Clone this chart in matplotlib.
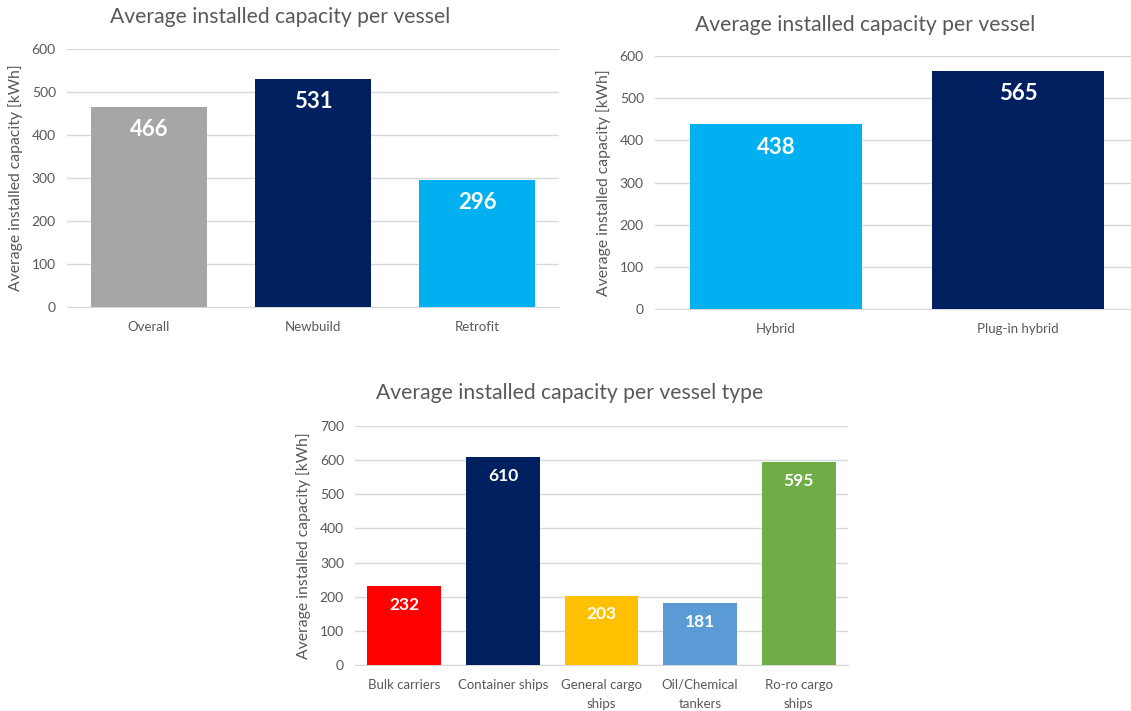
import matplotlib.pyplot as plt

# Chart data
status_labels = ["Overall", "Newbuild", "Retrofit"]
status_values = [466, 531, 296]
status_colors = ["#a6a6a6", "#002060", "#00b0f0"]

hybrid_labels = ["Hybrid", "Plug-in hybrid"]
hybrid_values = [438, 565]
hybrid_colors = ["#00b0f0", "#002060"]

type_labels = ["Bulk carriers", "Container ships", "General cargo\nships",
               "Oil/Chemical\ntankers", "Ro-ro cargo\nships"]
type_values = [232, 610, 203, 181, 595]
type_colors = ["#ff0000", "#002060", "#ffc000", "#5b9bd5", "#70ad47"]

plt.rcParams['font.family'] = ['Lato', 'DejaVu Sans']
text_gray = "#595959"
grid_gray = "#d9d9d9"


def bar_panel(fig, rect, labels, values, colors, ymax, width, label_size, label_offset):
    ax = fig.add_axes(rect)
    x = range(len(labels))
    bars = ax.bar(x, values, color=colors, width=width, zorder=3)
    ax.set_xlim(-0.5, len(labels) - 0.5)
    ax.set_ylim(0, ymax)
    ax.set_yticks(range(0, ymax + 1, 100))
    ax.set_xticks(list(x))
    ax.set_xticklabels(labels, fontsize=9.5, color=text_gray, linespacing=1.7)
    ax.tick_params(axis='both', length=0, labelsize=10, colors=text_gray)
    ax.tick_params(axis='x', pad=10, labelsize=9.5)
    ax.tick_params(axis='y', pad=8)
    ax.grid(axis='y', color=grid_gray, linewidth=1, zorder=0)
    for side in ['top', 'right', 'left']:
        ax.spines[side].set_visible(False)
    ax.spines['bottom'].set_color(grid_gray)
    ax.set_ylabel("Average installed capacity [kWh]", fontsize=11.3, color=text_gray, labelpad=6)
    for bar, v in zip(bars, values):
        ax.annotate(f"{v}", (bar.get_x() + bar.get_width() / 2, v),
                    xytext=(0, -label_offset), textcoords='offset points',
                    ha='center', va='center', color='white',
                    fontsize=label_size, fontweight='bold', zorder=4)
    return ax


fig = plt.figure(figsize=(11.31, 7.11), dpi=100)

bar_panel(fig, [0.0592, 0.5682, 0.435, 0.3629], status_labels, status_values,
          status_colors, 600, 0.707, 16, 16.5)
bar_panel(fig, [0.5791, 0.5654, 0.428, 0.3558], hybrid_labels, hybrid_values,
          hybrid_colors, 600, 0.71, 16, 16.5)
bar_panel(fig, [0.3139, 0.0647, 0.4359, 0.3361], type_labels, type_values,
          type_colors, 700, 0.75, 12.5, 13.5)

fig.text(280 / 1131, 1 - 17 / 711, "Average installed capacity per vessel",
         ha='center', va='center', fontsize=15.2, color=text_gray)
fig.text(865 / 1131, 1 - 25 / 711, "Average installed capacity per vessel",
         ha='center', va='center', fontsize=15.2, color=text_gray)
fig.text(570 / 1131, 1 - 393 / 711, "Average installed capacity per vessel type",
         ha='center', va='center', fontsize=15.2, color=text_gray)

fig.savefig("out.png", dpi=100)
